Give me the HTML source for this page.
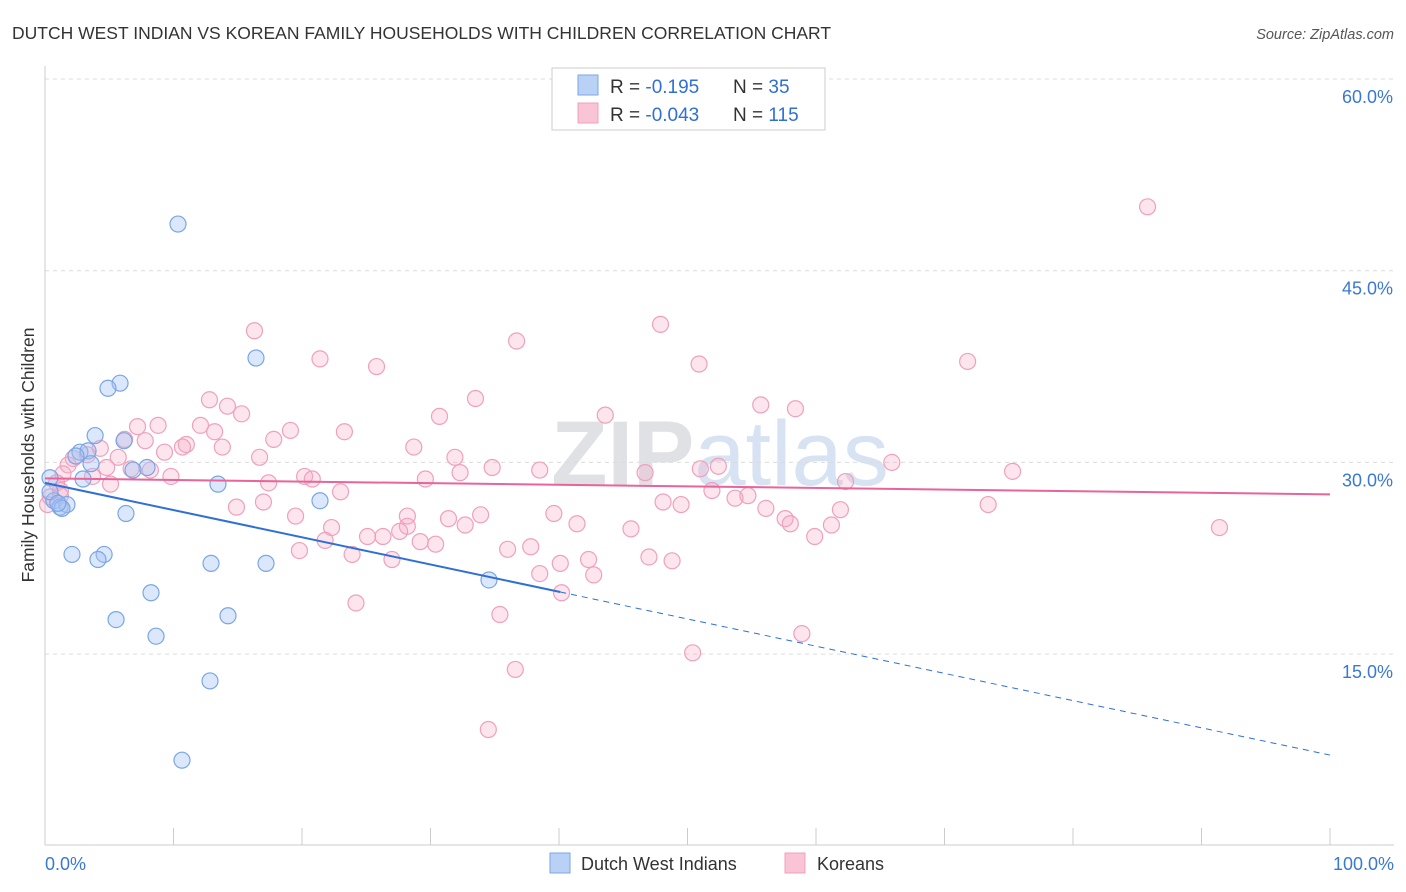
<!DOCTYPE html>
<html><head><meta charset="utf-8">
<style>
body{margin:0;background:#fff;font-family:"Liberation Sans",sans-serif;}
#wrap{position:relative;width:1406px;height:892px;overflow:hidden;}
svg text{font-family:"Liberation Sans",sans-serif;}
</style></head>
<body>
<div id="wrap">
<svg id="chart" width="1406" height="892">
  <text x="12" y="39" font-size="17.5" fill="#333">DUTCH WEST INDIAN VS KOREAN FAMILY HOUSEHOLDS WITH CHILDREN CORRELATION CHART</text>
  <text x="1394" y="39" font-size="14.5" fill="#555" text-anchor="end" font-style="italic">Source: ZipAtlas.com</text>
  <text x="720" y="485" font-size="92" fill="#e4e6ea" text-anchor="middle" font-family="Liberation Serif"><tspan font-weight="bold" fill="#dfe1e5">ZIP</tspan><tspan font-family="Liberation Sans" fill="#d7e2f2">atlas</tspan></text>
  <g id="grid"></g>
  <g id="axes"></g>
  <g id="marks"></g>
  <text transform="translate(34,455) rotate(-90)" font-size="17.5" fill="#333" text-anchor="middle">Family Households with Children</text>
  <g>
    <rect x="552" y="68" width="273" height="62" fill="#fff" stroke="#ccc"/>
    <rect x="578" y="75" width="20" height="20" fill="#b9d1f5" stroke="#7aa6e6"/>
    <rect x="578" y="103" width="20" height="20" fill="#f8c4d6" stroke="#f0a0bc"/>
    <text x="610" y="93" font-size="19" fill="#333">R =  <tspan fill="#2f6fd6">-0.195</tspan></text>
    <text x="733" y="93" font-size="19" fill="#333">N =  <tspan fill="#2f6fd6">35</tspan></text>
    <text x="610" y="121" font-size="19" fill="#333">R = <tspan fill="#2f6fd6">-0.043</tspan></text>
    <text x="733" y="121" font-size="19" fill="#333">N = <tspan fill="#2f6fd6">115</tspan></text>
  </g>
  <g>
    <rect x="550" y="853" width="20" height="20" fill="#b9d1f5" stroke="#7aa6e6"/>
    <text x="581" y="870" font-size="18" fill="#333">Dutch West Indians</text>
    <rect x="785" y="853" width="20" height="20" fill="#f8c4d6" stroke="#f0a0bc"/>
    <text x="817" y="870" font-size="18" fill="#333">Koreans</text>
  </g>
</svg>
</div>
<script>
const yTicks=[15,30,45,60];
const yTickLabels=["15.0%","30.0%","45.0%","60.0%"];
const xEndLabels=["0.0%","100.0%"];
const dutchX=[10.35,16.42,5.84,4.9,3.9,6.15,2.72,3.35,2.41,3.58,7.94,6.85,2.96,0.39,13.46,21.4,0.7,1.17,1.71,1.32,6.3,2.1,4.6,4.12,12.92,17.2,34.55,8.25,5.53,14.24,8.64,12.84,10.66,0.39,1.0];
const dutchY=[48.65,38.17,36.2,35.8,32.1,31.7,30.8,30.9,30.5,29.9,29.6,29.4,28.7,28.8,28.3,27.0,27.0,26.5,26.7,26.4,26.0,22.8,22.8,22.4,22.1,22.1,20.8,19.8,17.7,18.0,16.4,12.9,6.7,27.7,26.8];
const koreanX=[85.8,47.9,16.3,36.7,21.4,25.8,50.9,71.8,12.8,14.2,33.5,55.7,58.4,15.3,30.7,43.6,7.2,8.8,12.1,13.2,19.1,23.3,6.2,7.8,11.0,10.7,17.8,28.7,13.8,9.3,4.3,3.3,2.2,5.7,16.7,31.9,1.8,4.8,6.7,8.2,9.8,1.4,3.7,20.2,20.8,29.6,32.3,38.5,34.8,46.7,51.0,52.4,65.9,75.3,62.3,5.1,17.4,0.9,1.2,23.0,51.9,53.7,54.7,48.1,49.5,56.1,57.6,14.9,17.0,19.5,28.2,31.4,33.9,39.6,41.4,45.6,32.7,28.2,22.3,73.4,61.9,58.0,61.2,59.9,21.8,25.1,26.3,27.6,29.2,30.4,19.8,23.9,27.0,36.0,37.8,40.1,38.5,42.3,42.7,47.0,48.8,24.2,35.4,58.9,50.4,36.6,34.5,91.4,40.2,0.2,0.4,1.2];
const koreanY=[50.0,40.8,40.3,39.5,38.1,37.5,37.7,37.9,34.9,34.4,35.0,34.5,34.2,33.8,33.6,33.7,32.8,32.9,32.9,32.4,32.5,32.4,31.8,31.7,31.4,31.2,31.8,31.2,31.2,30.8,31.1,30.6,30.3,30.4,30.4,30.4,29.8,29.6,29.5,29.4,28.9,29.1,28.9,28.9,28.7,28.7,29.2,29.4,29.6,29.2,29.5,29.7,30.0,29.3,28.5,28.3,28.4,28.4,27.8,27.7,27.8,27.2,27.4,26.9,26.7,26.4,25.6,26.5,26.9,25.8,25.8,25.6,25.9,26.0,25.2,24.8,25.1,25.0,24.9,26.7,26.3,25.2,25.1,24.2,23.9,24.2,24.2,24.6,23.8,23.6,23.1,22.8,22.4,23.2,23.4,22.1,21.3,22.4,21.2,22.6,22.3,19.0,18.1,16.6,15.1,13.8,9.1,24.9,19.8,26.7,27.3,27.4];
const dutchTrend=[28.4,7.1];
const koreanTrend=[28.75,27.5];
const dutchSolidEnd=40.1;

const NS="http://www.w3.org/2000/svg";
const X=v=>45+v*12.85;
const Y=v=>79+(60-v)*12.78;
function mk(tag,attrs,parent){const e=document.createElementNS(NS,tag);for(const k in attrs)e.setAttribute(k,attrs[k]);parent.appendChild(e);return e;}
const grid=document.getElementById('grid'),axes=document.getElementById('axes'),marks=document.getElementById('marks');
yTicks.forEach((t,i)=>{
  const l=mk('line',{x1:45,x2:1394,y1:Y(t),y2:Y(t),stroke:'#dcdcdc','stroke-dasharray':'4,4'},grid);
  
  
  const tx=mk('text',{x:1393,y:Y(t)+24,'font-size':18,fill:'#3a78d4','text-anchor':'end'},axes);
  tx.textContent=yTickLabels[i];
  
  
});
const ya=mk('line',{x1:45,x2:45,y1:66,y2:845,stroke:'#ccc'},axes);


const xa=mk('line',{x1:45,x2:1394,y1:845,y2:845,stroke:'#ccc'},axes);


for(let i=0;i<=10;i++){
  const t=mk('line',{x1:X(i*10),x2:X(i*10),y1:828,y2:845,stroke:'#ccc'},axes);
  
  
}
const xl0=mk('text',{x:45,y:870,'font-size':18,fill:'#3a78d4'},axes);xl0.textContent=xEndLabels[0];


const xl1=mk('text',{x:1394,y:870,'font-size':18,fill:'#3a78d4','text-anchor':'end'},axes);xl1.textContent=xEndLabels[1];



koreanX.forEach((x,i)=>{
  const c=mk('circle',{cx:X(x),cy:Y(koreanY[i]),r:8,fill:'rgba(244,170,196,0.3)',stroke:'#f0a0bc','stroke-width':1.2},marks);
  
  
});
dutchX.forEach((x,i)=>{
  const c=mk('circle',{cx:X(x),cy:Y(dutchY[i]),r:8,fill:'rgba(164,194,244,0.4)',stroke:'#7aa6e6','stroke-width':1.2},marks);
  
  
});
const ty=x=>dutchTrend[0]+(dutchTrend[1]-dutchTrend[0])*x/100;
const d1=mk('line',{x1:X(0),y1:Y(dutchTrend[0]),x2:X(dutchSolidEnd),y2:Y(ty(dutchSolidEnd)),stroke:'#2f6fd6','stroke-width':2},marks);


const d2=mk('line',{x1:X(dutchSolidEnd),y1:Y(ty(dutchSolidEnd)),x2:X(100),y2:Y(dutchTrend[1]),stroke:'#2f6fd6','stroke-width':1,'stroke-dasharray':'6,5'},marks);


const k1=mk('line',{x1:X(0),y1:Y(koreanTrend[0]),x2:X(100),y2:Y(koreanTrend[1]),stroke:'#e8649a','stroke-width':2},marks);


</script>
</body></html>
